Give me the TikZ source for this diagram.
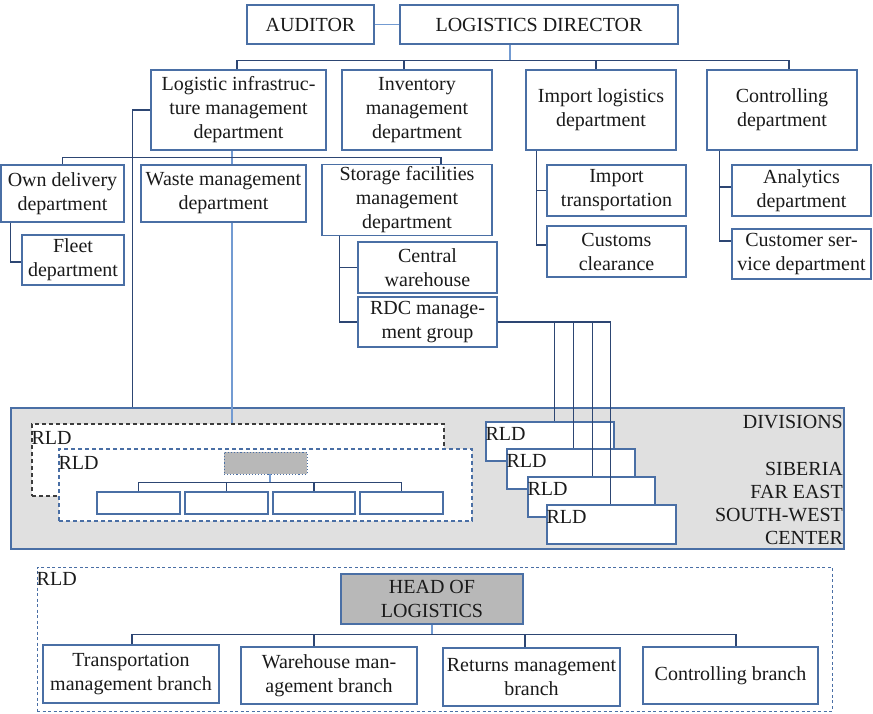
\documentclass[tikz,border=0pt]{standalone}
\usepackage{fontspec}
\setmainfont{Liberation Serif}
\usepackage{xcolor}
\usepackage{tikz}
\usetikzlibrary{calc}
\definecolor{boxblue}{RGB}{74,111,165}
\definecolor{linkdark}{RGB}{45,70,115}
\definecolor{linklight}{RGB}{115,155,210}
\definecolor{divgray}{RGB}{224,224,224}
\definecolor{headgray}{RGB}{184,184,184}
\definecolor{ink}{RGB}{26,26,26}
\newcommand{\orgfont}{\fontsize{20}{24}\selectfont}

\tikzset{
    unit/.style={draw=boxblue, fill=white, line width=1.1pt, inner sep=2pt,
        align=center, text=ink, font=\orgfont},
    sz/.style 2 args={minimum width=#1, minimum height=#2},
    plain/.style={inner sep=0pt, text=ink, font=\orgfont},
    tag/.style={label={[plain, anchor=north west, yshift=-#1]north west:RLD}},
    link/.style={draw=linkdark, line width=1.1pt},
    stem/.style={draw=linklight, line width=1.1pt},
}

\begin{document}
\begin{tikzpicture}[x=1pt, y=-1pt]
    \useasboundingbox (0,0) rectangle (873,713);

    % head office
    \node[unit, sz={127}{39}] (aud) at (310.5,24.5) {AUDITOR};
    \node[unit, sz={278}{39}] (dir) at (539,24.5) {LOGISTICS DIRECTOR};
    \node[unit, sz={175}{80}] (infra) at (238.5,110) {Logistic infrastruc-\\ture management\\department};
    \node[unit, sz={150}{80}] (inv) at (417,110) {Inventory\\management\\department};
    \node[unit, sz={150}{80}] (imp) at (601,110) {Import logistics\\department};
    \node[unit, sz={150}{80}] (ctrl) at (782,110) {Controlling\\department};

    \node[unit, sz={123}{57}] (own) at (62.5,193.5) {Own delivery\\department};
    \node[unit, sz={102}{50}] (fleet) at (73,260) {Fleet\\department};
    \node[unit, sz={165}{57}] (waste) at (223.5,193.5) {Waste management\\department};
    \node[unit, sz={170}{70}] (stor) at (407,200) {Storage facilities\\management\\department};
    \node[unit, sz={139}{51}] (cw) at (427.5,267.5) {Central\\warehouse};
    \node[unit, sz={139}{50}] (rdc) at (427.5,322) {RDC manage-\\ment group};

    \node[unit, sz={139}{51}] (itr) at (616.5,190.5) {Import\\transportation};
    \node[unit, sz={139}{51}] (cus) at (616.5,251.5) {Customs\\clearance};
    \node[unit, sz={139}{51}] (ana) at (801.5,190.5) {Analytics\\department};
    \node[unit, sz={139}{50}] (csd) at (801.5,254) {Customer ser-\\vice department};

    % divisions
    \node[unit, fill=divgray, sz={833}{141}] (divs) at (427.5,478.5) {};
    \node[plain, anchor=north east] (divlbl) at ([xshift=-1.5pt, yshift=-7.5pt]divs.north east) {DIVISIONS};
    \node[plain, anchor=south east, align=right, font=\fontsize{20}{23}\selectfont] (regions)
        at ([xshift=-1.5pt, yshift=4.5pt]divs.south east) {SIBERIA\\FAR EAST\\SOUTH-WEST\\CENTER};

    \node[unit, draw=ink!85, dash pattern=on 4pt off 3pt, sz={412}{72}, tag=8pt] (rldA) at (238,460) {};
    \node[unit, dash pattern=on 4pt off 3pt, sz={413}{72}, tag=8pt] (rldB) at (265.5,485) {};
    \node[unit, fill=headgray, dotted, line width=0.9pt, sz={83}{22}] (hd) at (265.5,463) {};
    \node[unit, sz={83}{22}] (s1) at (138.5,503) {};
    \node[unit, sz={83}{22}] (s2) at (226.5,503) {};
    \node[unit, sz={82}{22}] (s3) at (314,503) {};
    \node[unit, sz={83}{22}] (s4) at (401.5,503) {};

    \node[unit, sz={128}{39}, tag=6pt] (r1) at (550,441.5) {};
    \node[unit, sz={128}{40}, tag=6pt] (r2) at (571,469) {};
    \node[unit, sz={127}{40}, tag=6pt] (r3) at (591.5,497) {};
    \node[unit, sz={129}{39}, tag=6pt] (r4) at (611.5,524.5) {};

    % regional department
    \node[unit, dash pattern=on 3pt off 2.5pt, line width=1pt, sz={795}{144}, tag=6pt] (rldC) at (434.5,639) {};
    \node[unit, fill=headgray, sz={182}{50}] (head) at (432,599) {HEAD OF\\LOGISTICS};
    \node[unit, sz={176}{58}] (tr) at (131,674) {Transportation\\management branch};
    \node[unit, sz={176}{57}] (wh) at (329,675.5) {Warehouse man-\\agement branch};
    \node[unit, sz={177}{58}] (ret) at (531.5,677) {Returns management\\branch};
    \node[unit, sz={175}{57}] (cb) at (730.5,675.5) {Controlling branch};

    % links
    \draw[stem] (aud) -- (dir);
    \draw[stem] ([xshift=-29pt]dir.south) -- ++(0,16) coordinate (db);
    \draw[link] ([xshift=-1.5pt]infra.north) |- (db);
    \draw[link] ([xshift=-13pt]inv.north) |- (db);
    \draw[link] ([xshift=-5pt]imp.north) |- (db);
    \draw[link] ([xshift=7pt]ctrl.north) |- (db);

    \draw[stem] ([xshift=-6.5pt]infra.south) -- ++(0,7) coordinate (ib);
    \draw[link] (own.north) |- (ib);
    \draw[link] ([xshift=34pt]stor.north) |- (ib);
    \draw[stem] (ib) -- (ib |- waste.north);
    \draw[stem] (waste.south -| ib) -- (ib |- rldA.north);
    \draw[link] (infra.west) -- ++(-18,0) coordinate (il) -- (il |- divs.north);

    \draw[link] ([xshift=10pt]own.south west) |- ([yshift=-2pt]fleet.west);
    \draw[link] ([xshift=18pt]stor.south west) |- (cw.west);
    \draw[link] ([xshift=18pt]stor.south west) |- (rdc.west);
    \draw[link] ([xshift=11pt]imp.south west) |- (itr.west);
    \draw[link] ([xshift=11pt]imp.south west) |- ([yshift=6.5pt]cus.west);
    \draw[link] ([xshift=13pt]ctrl.south west) |- ([yshift=3.5pt]ana.west);
    \draw[link] ([xshift=13pt]ctrl.south west) |- ([yshift=13pt]csd.west);

    \foreach \r/\dx in {r1/69, r2/67, r3/65, r4/64}
        \draw[link] (rdc.east) -| ([xshift=\dx pt]\r.north west);

    \draw[stem] ([xshift=4.5pt]hd.south) -- ++(0,8) coordinate (hdb);
    \foreach \n in {s1, s2, s3, s4}
        \draw[link] (\n.north) |- (hdb);

    \draw[stem] (head.south) -- ++(0,10) coordinate (hb);
    \draw[link] ([xshift=1pt]tr.north) |- (hb);
    \draw[link] ([xshift=-15pt]wh.north) |- (hb);
    \draw[link] ([xshift=-6.5pt]ret.north) |- (hb);
    \draw[link] ([xshift=5.5pt]cb.north) |- (hb);
\end{tikzpicture}
\end{document}
